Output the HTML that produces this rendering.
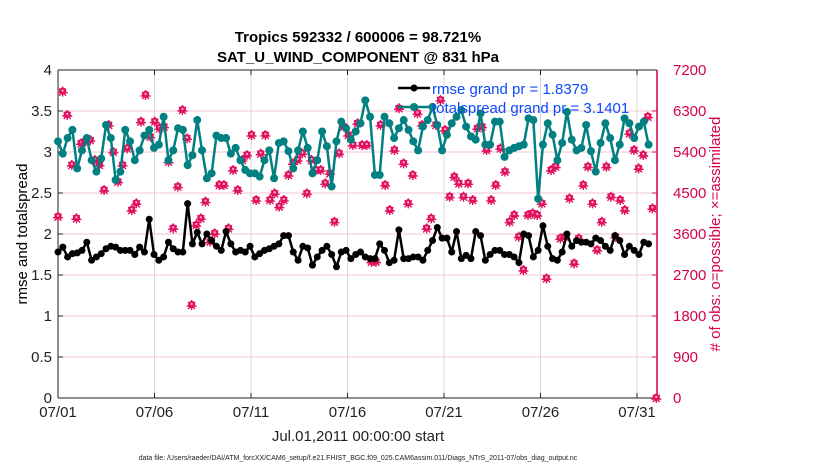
<!DOCTYPE html>
<html><head><meta charset="utf-8"><style>
body{margin:0;background:#fff;}
svg{display:block;font-family:"Liberation Sans",sans-serif;}
</style></head><body>
<svg id="chart" width="830" height="470">
<text x="358" y="42" text-anchor="middle" font-size="15" font-weight="bold">Tropics 592332 / 600006 = 98.721%</text>
<text x="358" y="62" text-anchor="middle" font-size="15" font-weight="bold">SAT_U_WIND_COMPONENT @ 831 hPa</text>
<g id="grid"></g><g id="axes"></g><g id="series"></g>
<text transform="translate(27,234) rotate(-90)" text-anchor="middle" font-size="15">rmse and totalspread</text>
<text transform="translate(720,234) rotate(-90)" text-anchor="middle" font-size="15" fill="#d6004f"># of obs: o=possible; ×=assimilated</text>
<text x="358" y="441" text-anchor="middle" font-size="15" fill="#222">Jul.01,2011 00:00:00 start</text>
<text x="358" y="460" text-anchor="middle" font-size="7" fill="#222">data file: /Users/raeder/DAI/ATM_forcXX/CAM6_setup/f.e21.FHIST_BGC.f09_025.CAM6assim.011/Diags_NTrS_2011-07/obs_diag_output.nc</text>
<g id="legend">
<line x1="398" y1="88" x2="430" y2="88" stroke="#000" stroke-width="2.5"/><circle cx="414" cy="88" r="3.5" fill="#000"/>
<text x="432" y="94" font-size="15" fill="#0b4bff">rmse grand pr = 1.8379</text>
<line x1="398" y1="107" x2="430" y2="107" stroke="#008080" stroke-width="2.5"/><circle cx="414" cy="107" r="4" fill="#008080"/>
<text x="432" y="113" font-size="15" fill="#0b4bff">totalspread grand pr = 3.1401</text>
</g>
</svg>
<script>
const xTickLabels=["07/01","07/06","07/11","07/16","07/21","07/26","07/31"];
const xTickDays=[0,5,10,15,20,25,30];
const yLeftTicks=[0,0.5,1,1.5,2,2.5,3,3.5,4];
const yRightTicks=[0,900,1800,2700,3600,4500,5400,6300,7200];
const rmse=[1.78,1.84,1.72,1.76,1.77,1.80,1.90,1.68,1.72,1.76,1.82,1.85,1.84,1.80,1.80,1.80,1.75,1.84,1.78,2.18,1.75,1.68,1.72,1.90,1.82,1.78,1.78,2.37,1.88,2.02,1.88,2.00,1.92,1.85,1.80,2.03,1.88,1.78,1.80,1.78,1.85,1.72,1.76,
1.80,1.82,1.85,1.88,1.98,1.98,1.78,1.68,1.85,1.83,1.62,1.72,1.80,1.85,1.75,1.60,1.78,1.80,1.70,1.75,1.78,1.72,1.70,1.70,1.88,1.80,1.65,1.68,2.05,1.70,1.70,1.72,1.72,1.68,1.80,1.92,2.08,1.95,1.95,1.78,2.03,
1.70,1.74,1.70,2.03,1.98,1.68,1.75,1.80,1.80,1.75,1.75,1.72,1.65,2.00,1.98,1.72,1.80,2.10,1.85,1.70,1.68,1.78,2.00,1.85,1.92,1.90,1.90,1.88,1.95,1.92,1.85,1.80,1.98,1.92,1.75,1.85,1.80,1.75,1.90,1.88];
const totalspread=[3.13,2.98,3.17,3.27,2.80,3.02,3.17,2.90,2.76,2.92,3.33,3.17,2.66,2.76,3.27,3.13,2.90,3.02,3.20,3.27,3.05,3.09,3.43,2.90,3.02,3.29,3.27,2.84,2.96,3.39,3.02,2.68,2.74,3.20,3.17,3.17,2.98,3.05,2.90,2.78,2.74,
2.74,2.70,2.90,3.02,2.68,3.11,3.13,3.01,2.80,3.02,3.25,3.05,2.74,2.90,3.25,3.07,2.58,3.13,3.37,3.29,3.15,3.25,3.35,3.63,3.43,2.72,2.72,3.43,3.35,3.17,3.29,3.39,3.27,3.13,3.02,3.31,3.39,3.55,3.33,3.02,3.21,3.35,3.43,
3.51,3.31,3.19,3.15,3.47,3.09,3.09,3.37,3.37,2.94,3.02,3.05,3.07,3.09,3.41,3.39,2.43,3.09,3.35,3.21,2.90,3.11,3.49,3.15,3.02,3.05,3.33,3.01,2.76,3.11,3.35,3.17,2.90,3.09,3.41,3.35,3.17,3.31,3.37,3.09];
const obsCount=[3980,6725,6212,5115,3944,5590,5630,5660,5224,5115,4566,5993,5400,4749,5115,5480,4127,4273,6066,6651,5736,6066,5920,5956,5188,3724,4639,6322,5700,2041,3797,3944,4310,3432,3614,4676,4676,3724,5005,4566,5224,5334,5773,4346,
5363,5773,4346,4492,4200,4346,4895,5151,5224,5370,4492,5224,5005,5005,4712,4932,3870,5370,5956,5773,5553,6030,5553,5553,2992,2992,5993,4676,4127,5443,6359,5151,4273,4895,6248,5993,3724,3944,5993,6541,5883,4419,4858,4712,
4419,4712,4346,5920,5956,5443,4346,4676,5480,4968,3870,4017,3541,2809,4017,4054,4017,4273,2626,5005,5078,3505,3541,4383,2955,3505,4676,5078,4273,3249,3870,5078,4419,3541,4346,4127,5810,5443,5041,5334,6175,4163];
const obsTailDay=[31.0];
const obsTailCount=[0];
const lineSpanDays=30.6, obsSpanDays=30.8;

const NS="http://www.w3.org/2000/svg";
const X0=58,X1=657,Y0=398,Y1=70,PX_PER_DAY=19.3;
const xs=d=>X0+d*PX_PER_DAY;
const yl=v=>Y0-(v/4)*(Y0-Y1);
const yr=v=>Y0-(v/7200)*(Y0-Y1);
function mk(tag,attrs,parent){const e=document.createElementNS(NS,tag);for(const k in attrs)e.setAttribute(k,attrs[k]);parent.appendChild(e);return e;}
const grid=document.getElementById('grid'),axes=document.getElementById('axes'),ser=document.getElementById('series');
mk('rect',{x:X0,y:Y1,width:X1-X0,height:Y0-Y1,fill:'#fff'},grid);
yRightTicks.forEach((t,i)=>{const y=yr(t);
 if(i>0&&i<yRightTicks.length-1){const g=mk('line',{x1:X0,x2:X1,y1:y,y2:y,stroke:'#f3c6d6','stroke-width':1},grid);
 
 }
 mk('line',{x1:X1-5,x2:X1,y1:y,y2:y,stroke:'#d6004f','stroke-width':1},axes);
 const tx=mk('text',{x:X1+16,y:y+5,'font-size':15,fill:'#d6004f'},axes);tx.textContent=t;
 
 
});
xTickDays.forEach((d,i)=>{const x=xs(d);
 if(i>0){const g=mk('line',{x1:x,x2:x,y1:Y1,y2:Y0,stroke:'#d8d8d8','stroke-width':1},grid);
 
 }
 mk('line',{x1:x,x2:x,y1:Y0,y2:Y0-5,stroke:'#222'},axes);mk('line',{x1:x,x2:x,y1:Y1,y2:Y1+5,stroke:'#222'},axes);
 const tx=mk('text',{x:x,y:417,'font-size':15,'text-anchor':'middle',fill:'#222'},axes);tx.textContent=xTickLabels[i];
 
 
});
yLeftTicks.forEach((t,i)=>{const y=yl(t);
 mk('line',{x1:X0,x2:X0+5,y1:y,y2:y,stroke:'#222'},axes);
 const tx=mk('text',{x:X0-6,y:y+5,'font-size':15,'text-anchor':'end',fill:'#222'},axes);tx.textContent=t;
 
 
});
mk('line',{x1:X0,x2:X1,y1:Y1,y2:Y1,stroke:'#222'},axes);
mk('line',{x1:X0,x2:X1,y1:Y0,y2:Y0,stroke:'#222'},axes);
mk('line',{x1:X0,x2:X0,y1:Y1,y2:Y0,stroke:'#222'},axes);
mk('line',{x1:X1,x2:X1,y1:Y1,y2:Y0,stroke:'#d6004f','stroke-width':1.5},axes);

function obsMarker(x,y){const g=mk('g',{},ser);
 
 
 mk('circle',{cx:x,cy:y-0.5,r:3.6,fill:'#e0105f'},g);
 mk('path',{d:`M${x-5} ${y+1}H${x+5}M${x} ${y-5}V${y+5}M${x-3.5} ${y-3}L${x+3.5} ${y+4}M${x-3.5} ${y+4}L${x+3.5} ${y-3}`,stroke:'#e0105f','stroke-width':1.4},g);
 mk('circle',{cx:x,cy:y-1,r:1.2,fill:'#f7a6c4'},g);}
obsCount.forEach((v,i)=>obsMarker(xs(i*obsSpanDays/(obsCount.length-1)),yr(v)));
obsTailDay.forEach((d,i)=>obsMarker(xs(d),yr(obsTailCount[i])));

function series(arr,color,r,name){const pts=arr.map((v,i)=>[xs(i*lineSpanDays/(arr.length-1)),yl(v)]);
 const p=mk('polyline',{points:pts.map(p=>p.join(',')).join(' '),fill:'none',stroke:color,'stroke-width':2.5,'stroke-linejoin':'round'},ser);
 
 
 pts.forEach(q=>{const c=mk('circle',{cx:q[0],cy:q[1],r:r,fill:color},ser);
 
 });}
series(totalspread,'#008080',4,'totalspread');
series(rmse,'#000',3.5,'rmse');
ser.parentNode.appendChild(document.getElementById('legend'));
</script>
</body></html>
